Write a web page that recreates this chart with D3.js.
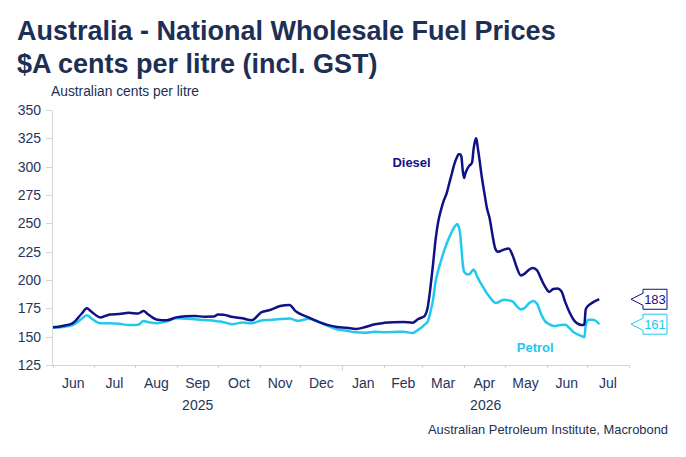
<!DOCTYPE html>
<html>
<head>
<meta charset="utf-8">
<script src="https://d3js.org/d3.v7.min.js"></script>
<style>
	body { margin: 0; background: #fff; }
	svg { display: block; font-family: "Liberation Sans", Arial, sans-serif; }
	.axis path, .axis line { stroke: #d4d4d4; shape-rendering: crispEdges; }
	.axis text { fill: #27345a; font-size: 14px; }
</style>
</head>
<body>
<svg id="chart" width="686" height="457"></svg>
<script>
'use strict';

var dates = [
	'2025-06-01', '2025-06-08', '2025-06-15', '2025-06-22', '2025-06-26', '2025-06-29',
	'2025-07-06', '2025-07-13', '2025-07-20', '2025-07-27',
	'2025-08-03', '2025-08-07', '2025-08-10', '2025-08-17', '2025-08-24', '2025-08-31',
	'2025-09-07', '2025-09-14', '2025-09-21', '2025-09-28',
	'2025-10-01', '2025-10-05', '2025-10-12', '2025-10-19', '2025-10-26',
	'2025-11-02', '2025-11-09', '2025-11-16', '2025-11-23', '2025-11-27', '2025-11-30',
	'2025-12-07', '2025-12-14', '2025-12-21', '2025-12-28',
	'2026-01-04', '2026-01-11', '2026-01-18', '2026-01-25',
	'2026-02-01', '2026-02-08', '2026-02-15', '2026-02-22', '2026-02-26',
	'2026-03-01', '2026-03-03', '2026-03-05', '2026-03-07', '2026-03-09', '2026-03-11',
	'2026-03-13', '2026-03-15', '2026-03-17', '2026-03-19', '2026-03-21', '2026-03-23',
	'2026-03-25', '2026-03-27', '2026-03-28', '2026-03-29', '2026-03-30', '2026-03-31',
	'2026-04-01', '2026-04-02', '2026-04-03', '2026-04-05', '2026-04-06', '2026-04-07',
	'2026-04-08', '2026-04-09', '2026-04-10', '2026-04-11', '2026-04-12', '2026-04-14',
	'2026-04-16', '2026-04-18', '2026-04-20', '2026-04-22', '2026-04-24', '2026-04-26',
	'2026-04-28', '2026-05-01', '2026-05-04', '2026-05-07', '2026-05-10', '2026-05-13',
	'2026-05-16', '2026-05-19', '2026-05-22', '2026-05-25', '2026-05-28', '2026-05-31',
	'2026-06-03', '2026-06-06', '2026-06-09', '2026-06-12', '2026-06-15', '2026-06-18',
	'2026-06-21', '2026-06-24', '2026-06-27', '2026-06-28', '2026-06-29', '2026-06-30',
	'2026-07-02', '2026-07-05', '2026-07-08', '2026-07-10'
];

var diesel = [
	158.3, 159.5, 161.5, 170, 175, 172.5,
	167, 169.5, 170, 171,
	170.5, 172.6, 170, 165, 164.5, 167,
	168, 168.2, 167.6, 167.7,
	169.5, 169.3, 167.3, 166.2, 164.5,
	171.5, 173.7, 177, 177.9, 173, 170.5,
	167, 163.3, 160.4, 158.5,
	157.9, 156.8, 158.5, 161,
	162.2, 162.8, 163, 162.3, 165.5,
	167, 168.5, 175, 192, 213, 236,
	252, 262, 270, 276, 285, 294,
	303, 309, 311, 311, 309, 297,
	290, 294, 297, 301, 302, 304,
	315, 322, 325, 318, 310, 292,
	277, 263, 254, 240, 228, 225,
	225.5, 227, 227.8, 221.5, 211, 204,
	205.7, 209, 210.5, 208.5, 201, 194,
	189.5, 192, 192.5, 190, 180, 171.5,
	165, 161.5, 160.3, 160.3, 161, 174,
	177.5, 180, 182, 183
];

var petrol = [
	157.9, 158.5, 160, 165.5, 169, 166.5,
	161.8, 161.8, 161.3, 160.3,
	160.5, 163.8, 163, 161.8, 163.5, 166.2,
	165.8, 165.3, 164.6, 164,
	163.5, 162.8, 161, 162.4, 161.9,
	164.2, 164.8, 165.5, 166, 164.5, 164,
	165.8, 163.3, 159.5, 156.5,
	155.3, 153.8, 153.5, 154.4,
	154, 154.1, 154.4, 153.2, 156,
	158.5, 160.8, 163, 171, 182, 199,
	209, 217, 225, 231.5, 237.5, 242.6,
	247, 249.5, 247, 242, 229, 215,
	207.4, 206, 205, 205, 206.5, 208,
	209, 208, 205, 202.5, 200, 196,
	192, 188, 185, 182, 180, 180.2,
	181.5, 182.5, 182, 181, 177, 174,
	175.5, 179.5, 181.5, 179, 170, 163.5,
	161, 159.5, 159.8, 160.3, 160.5, 157.5,
	154, 152, 150.5, 150, 149.4, 160,
	165, 165, 163.5, 161
];

var yTicks = [125, 150, 175, 200, 225, 250, 275, 300, 325, 350];
var years = ['2025', '2026'];

var colors = { diesel: '#111187', petrol: '#22c9ef', text: '#1d2f55' };

var svg = d3.select('#chart');
var parse = d3.utcParse('%Y-%m-%d');

var x = d3.scaleUtc()
	.domain([new Date(Date.UTC(2025, 5, 1)), new Date(Date.UTC(2026, 7, 1))])
	.range([53, 629]);

var y = d3.scaleLinear()
	.domain([125, 350])
	.range([365, 110]);

// titles
svg.append('text')
	.attr('x', 17).attr('y', 40)
	.attr('fill', colors.text)
	.attr('font-size', 27).attr('font-weight', 'bold')
	.text('Australia - National Wholesale Fuel Prices');

svg.append('text')
	.attr('x', 17).attr('y', 73)
	.attr('fill', colors.text)
	.attr('font-size', 27).attr('font-weight', 'bold')
	.text('$A cents per litre (incl. GST)');

svg.append('text')
	.attr('x', 51).attr('y', 96)
	.attr('fill', colors.text)
	.attr('font-size', 13.8)
	.text('Australian cents per litre');

// y axis
svg.append('g')
	.attr('class', 'axis')
	.attr('transform', 'translate(52,0)')
	.call(d3.axisLeft(y).tickValues(yTicks).tickSize(6).tickSizeOuter(0).tickPadding(5));

// x axis, ticks at month starts, labels centred on the month
var xAxis = svg.append('g')
	.attr('class', 'axis')
	.attr('transform', 'translate(0,365)')
	.call(d3.axisBottom(x).ticks(d3.utcMonth.every(1)).tickSize(3).tickSizeOuter(0).tickFormat(''));

xAxis.select('.domain').attr('d', 'M52,0H' + x.range()[1]);

xAxis.selectAll('.tick line')
	.attr('y2', function(d) { return d.getUTCMonth() === 0 ? 6 : 3; });

var months = d3.utcMonth.range(x.domain()[0], x.domain()[1]);

svg.append('g')
	.selectAll('text')
	.data(months)
	.enter()
	.append('text')
	.attr('x', function(d) { return (x(d) + x(d3.utcMonth.offset(d, 1))) / 2; })
	.attr('y', 388)
	.attr('text-anchor', 'middle')
	.attr('fill', '#27345a')
	.attr('font-size', 14)
	.text(d3.utcFormat('%b'));

svg.append('g')
	.selectAll('text')
	.data(years)
	.enter()
	.append('text')
	.attr('x', function(d) {
		var a = d3.max([x.domain()[0], new Date(Date.UTC(+d, 0, 1))]);
		var b = d3.min([x.domain()[1], new Date(Date.UTC(+d + 1, 0, 1))]);
		return (x(a) + x(b)) / 2;
	})
	.attr('y', 410)
	.attr('text-anchor', 'middle')
	.attr('fill', '#27345a')
	.attr('font-size', 14)
	.text(function(d) { return d; });

// series
var series = [
	{ name: 'Diesel', values: diesel, color: colors.diesel },
	{ name: 'Petrol', values: petrol, color: colors.petrol }
];

var line = d3.line()
	.x(function(d) { return x(d[0]); })
	.y(function(d) { return y(d[1]); })
	.curve(d3.curveMonotoneX);

svg.append('g')
	.selectAll('path')
	.data(series.slice().reverse())
	.enter()
	.append('path')
	.attr('fill', 'none')
	.attr('stroke', function(d) { return d.color; })
	.attr('stroke-width', 2.5)
	.attr('stroke-linejoin', 'round')
	.attr('d', function(d) {
		return line(d.values.map(function(v, i) { return [parse(dates[i]), v]; }));
	});

// series names
svg.append('text')
	.attr('x', x(parse('2026-02-07'))).attr('y', y(300))
	.attr('fill', colors.diesel)
	.attr('font-size', 13).attr('font-weight', 'bold')
	.text('Diesel');

svg.append('text')
	.attr('x', x(parse('2026-05-10'))).attr('y', y(136.5))
	.attr('fill', colors.petrol)
	.attr('font-size', 13).attr('font-weight', 'bold')
	.text('Petrol');

// last value callouts
var tip = 631;
var callouts = svg.append('g')
	.selectAll('g')
	.data(series)
	.enter()
	.append('g')
	.attr('transform', function(d) { return 'translate(' + tip + ',' + y(d.values[d.values.length - 1]) + ')'; });

callouts.append('path')
	.attr('d', 'M0,0L12,-6V-10H36V10H12V6Z')
	.attr('fill', '#fff')
	.attr('stroke', function(d) { return d.color; })
	.attr('stroke-width', 1);

callouts.append('text')
	.attr('x', 24).attr('y', 5)
	.attr('text-anchor', 'middle')
	.attr('fill', function(d) { return d.color; })
	.attr('font-size', 13)
	.text(function(d) { return d3.format('.0f')(d.values[d.values.length - 1]); });

// source
svg.append('text')
	.attr('x', 668).attr('y', 434)
	.attr('text-anchor', 'end')
	.attr('fill', colors.text)
	.attr('font-size', 12.9)
	.text('Australian Petroleum Institute, Macrobond');
</script>
</body>
</html>
